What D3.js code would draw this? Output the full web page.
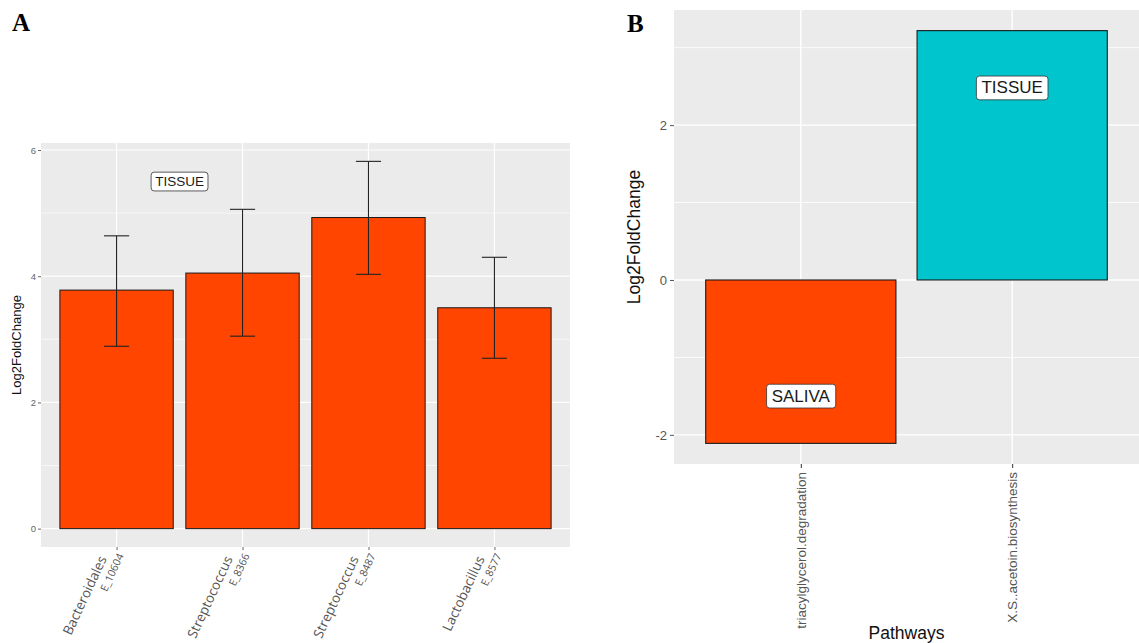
<!DOCTYPE html>
<html>
<head>
<meta charset="utf-8">
<script src="https://cdn.jsdelivr.net/npm/d3@7"></script>
<style>
  html, body { margin: 0; padding: 0; background: #ffffff; }
  svg { display: block; }
</style>
</head>
<body>
<svg id="fig" width="1139" height="643"></svg>
<script>
// ---- Panel A: differentially abundant taxa ----
const taxaNames = ["Bacteroidales", "Streptococcus", "Streptococcus", "Lactobacillus"];
const taxaCodes = ["E_10604", "E_8366", "E_8487", "E_8577"];
const taxaLfc   = [3.78, 4.05, 4.93, 3.50];
const taxaLow   = [2.89, 3.05, 4.03, 2.70];
const taxaHigh  = [4.64, 5.06, 5.82, 4.30];
const aTicks    = [0, 2, 4, 6];
const aMinor    = [1, 3, 5];
const aTag      = { x: 1.5, y: 5.5, text: "TISSUE" };

// ---- Panel B: differential pathways ----
const pathways    = ["triacylglycerol.degradation", "X.S..acetoin.biosynthesis"];
const pathwayLfc  = [-2.11, 3.22];
const pathwaySite = ["SALIVA", "TISSUE"];
const pathTagY    = [-1.5, 2.48];
const bTicks      = [-2, 0, 2];
const bMinor      = [-1, 1, 3];

const siteColor = { SALIVA: "#FF4500", TISSUE: "#00C5CD" };
const PANEL_BG = "#EBEBEB";
const TICK_COL = "#555555";
const SANS = "Liberation Sans, Arial, sans-serif";

const svg = d3.select("#fig");

// ggplot-style 5% continuous expansion
function expand(lo, hi) {
  const pad = (hi - lo) * 0.05;
  return [lo - pad, hi + pad];
}

// rounded label box like geom_label
function labelBox(g, cx, cy, text, size) {
  const t = g.append("text")
    .attr("x", cx).attr("y", cy)
    .attr("text-anchor", "middle")
    .attr("dominant-baseline", "central")
    .attr("font-family", SANS)
    .attr("font-size", size)
    .attr("fill", "#1a1a1a")
    .text(text);
  const bb = t.node().getBBox();
  const padX = size * 0.3, padY = size * 0.18;
  g.insert("rect", () => t.node())
    .attr("x", bb.x - padX).attr("y", bb.y - padY + size * 0.04)
    .attr("width", bb.width + 2 * padX).attr("height", bb.height + 2 * padY - size * 0.08)
    .attr("rx", 3).attr("ry", 3)
    .attr("fill", "#ffffff").attr("stroke", "#333333").attr("stroke-width", 0.8);
}

// ================= Panel A =================
{
  const L = 41, R = 570, T = 143, B = 547;
  const idx = d3.range(taxaNames.length);
  const x = d3.scalePoint().domain(idx).range([L, R]).padding(0.6);
  const step = x.step();
  const y = d3.scaleLinear().domain(expand(0, d3.max(taxaHigh))).range([B, T]);
  const g = svg.append("g");

  g.append("rect").attr("x", L).attr("y", T).attr("width", R - L).attr("height", B - T).attr("fill", PANEL_BG);
  g.selectAll(".minor").data(aMinor).join("line")
    .attr("x1", L).attr("x2", R).attr("y1", d => y(d)).attr("y2", d => y(d))
    .attr("stroke", "#ffffff").attr("stroke-width", 0.6);
  g.selectAll(".major").data(aTicks).join("line")
    .attr("x1", L).attr("x2", R).attr("y1", d => y(d)).attr("y2", d => y(d))
    .attr("stroke", "#ffffff").attr("stroke-width", 1.2);
  g.selectAll(".vmajor").data(idx).join("line")
    .attr("x1", d => x(d)).attr("x2", d => x(d)).attr("y1", T).attr("y2", B)
    .attr("stroke", "#ffffff").attr("stroke-width", 1.2);

  const bw = step * 0.9;
  g.selectAll(".bar").data(idx).join("rect")
    .attr("x", d => x(d) - bw / 2).attr("width", bw)
    .attr("y", d => y(taxaLfc[d])).attr("height", d => y(0) - y(taxaLfc[d]))
    .attr("fill", siteColor.SALIVA)
    .attr("stroke", "#1a1a1a").attr("stroke-width", 1);

  // error bars
  const ew = step * 0.1;
  const eb = g.selectAll(".err").data(idx).join("g").attr("stroke", "#222").attr("stroke-width", 1.1);
  eb.append("line").attr("x1", d => x(d)).attr("x2", d => x(d)).attr("y1", d => y(taxaLow[d])).attr("y2", d => y(taxaHigh[d]));
  eb.append("line").attr("x1", d => x(d) - ew).attr("x2", d => x(d) + ew).attr("y1", d => y(taxaLow[d])).attr("y2", d => y(taxaLow[d]));
  eb.append("line").attr("x1", d => x(d) - ew).attr("x2", d => x(d) + ew).attr("y1", d => y(taxaHigh[d])).attr("y2", d => y(taxaHigh[d]));

  // y axis
  const yAxis = g.append("g").attr("transform", `translate(${L},0)`)
    .call(d3.axisLeft(y).tickValues(aTicks).tickSize(3).tickPadding(2).tickFormat(d => String(d)));
  yAxis.select(".domain").remove();
  yAxis.selectAll(".tick line").attr("stroke", "#666");
  yAxis.selectAll(".tick text").attr("fill", "#666").attr("font-size", 9.5).attr("font-family", SANS);

  // x axis ticks
  const xAxis = g.append("g").attr("transform", `translate(0,${B})`)
    .call(d3.axisBottom(x).tickSize(3).tickFormat(""));
  xAxis.select(".domain").remove();
  xAxis.selectAll(".tick line").attr("stroke", "#666");

  // two-line slanted taxon labels
  const lab = g.selectAll(".xlab").data(idx).join("g")
    .attr("transform", d => `translate(${x(d) + 4},${B + 7}) rotate(-65)`)
    .attr("font-family", "Open Sans, sans-serif").attr("fill", "#555");
  lab.append("text").attr("x", 0).attr("y", 0).attr("dy", "0.35em")
    .attr("text-anchor", "end").attr("font-size", 10.5).text(d => taxaCodes[d]);
  lab.append("text").attr("x", -10).attr("y", -15).attr("dy", "0.35em")
    .attr("text-anchor", "end").attr("font-size", 13.5).text(d => taxaNames[d]);

  g.append("text")
    .attr("transform", `translate(21,${(T + B) / 2}) rotate(-90)`)
    .attr("text-anchor", "middle")
    .attr("font-family", SANS).attr("font-size", 13)
    .attr("fill", "#111").text("Log2FoldChange");

  // site tag, placed at a fractional category position
  const xc = d3.scaleLinear().domain([0, 1]).range([x(0), x(1)]);
  labelBox(g, xc(aTag.x - 1), y(aTag.y), aTag.text, 13.5);

  svg.append("text").attr("x", 12).attr("y", 31)
    .attr("font-family", "Liberation Serif, Times New Roman, serif").attr("font-weight", "bold")
    .attr("font-size", 25).attr("fill", "#000").text("A");
}

// ================= Panel B =================
{
  const L = 674, R = 1139, T = 10, B = 464;
  const x = d3.scalePoint().domain(pathways).range([L, R]).padding(0.6);
  const step = x.step();
  const y = d3.scaleLinear().domain(expand(d3.min(pathwayLfc), d3.max(pathwayLfc))).range([B, T]);
  const g = svg.append("g");

  g.append("rect").attr("x", L).attr("y", T).attr("width", R - L).attr("height", B - T).attr("fill", PANEL_BG);
  g.selectAll(".minor").data(bMinor).join("line")
    .attr("x1", L).attr("x2", R).attr("y1", d => y(d)).attr("y2", d => y(d))
    .attr("stroke", "#ffffff").attr("stroke-width", 0.8);
  g.selectAll(".major").data(bTicks).join("line")
    .attr("x1", L).attr("x2", R).attr("y1", d => y(d)).attr("y2", d => y(d))
    .attr("stroke", "#ffffff").attr("stroke-width", 1.4);
  g.selectAll(".vmajor").data(pathways).join("line")
    .attr("x1", d => x(d)).attr("x2", d => x(d)).attr("y1", T).attr("y2", B)
    .attr("stroke", "#ffffff").attr("stroke-width", 1.4);

  const bw = step * 0.9;
  g.selectAll(".bar").data(pathways).join("rect")
    .attr("x", d => x(d) - bw / 2).attr("width", bw)
    .attr("y", (d, i) => y(Math.max(0, pathwayLfc[i])))
    .attr("height", (d, i) => Math.abs(y(pathwayLfc[i]) - y(0)))
    .attr("fill", (d, i) => siteColor[pathwaySite[i]])
    .attr("stroke", "#1a1a1a").attr("stroke-width", 1.1);

  pathways.forEach((p, i) => labelBox(g, x(p), y(pathTagY[i]), pathwaySite[i], 17));

  const yAxis = g.append("g").attr("transform", `translate(${L},0)`)
    .call(d3.axisLeft(y).tickValues(bTicks).tickSize(4).tickPadding(3).tickFormat(d => String(d)));
  yAxis.select(".domain").remove();
  yAxis.selectAll(".tick line").attr("stroke", "#555");
  yAxis.selectAll(".tick text").attr("fill", TICK_COL).attr("font-size", 13).attr("font-family", SANS);

  const xAxis = g.append("g").attr("transform", `translate(0,${B})`)
    .call(d3.axisBottom(x).tickSize(4).tickFormat(""));
  xAxis.select(".domain").remove();
  xAxis.selectAll(".tick line").attr("stroke", "#333");

  g.selectAll(".xlab").data(pathways).join("text")
    .attr("transform", d => `translate(${x(d)},${B + 8}) rotate(-90)`)
    .attr("text-anchor", "end").attr("dy", "0.35em")
    .attr("font-family", SANS).attr("font-size", 13.5)
    .attr("fill", TICK_COL).text(d => d);

  g.append("text")
    .attr("transform", `translate(640,${(T + B) / 2}) rotate(-90)`)
    .attr("text-anchor", "middle")
    .attr("font-family", SANS).attr("font-size", 17.5)
    .attr("fill", "#111").text("Log2FoldChange");

  g.append("text").attr("x", (L + R) / 2).attr("y", 639)
    .attr("text-anchor", "middle")
    .attr("font-family", SANS).attr("font-size", 17.5)
    .attr("fill", "#111").text("Pathways");

  svg.append("text").attr("x", 627).attr("y", 32)
    .attr("font-family", "Liberation Serif, Times New Roman, serif").attr("font-weight", "bold")
    .attr("font-size", 25).attr("fill", "#000").text("B");
}
</script>
</body>
</html>
